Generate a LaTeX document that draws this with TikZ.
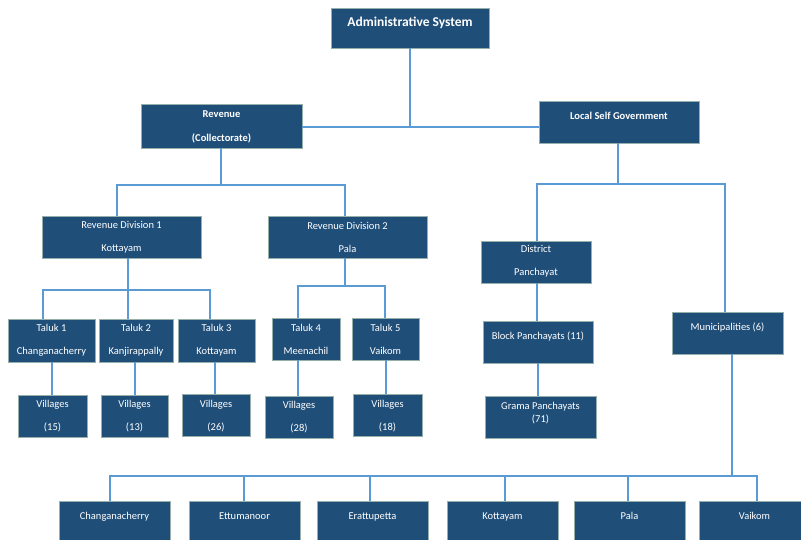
\documentclass[tikz,border=0pt]{standalone}
\usepackage{fontspec}
\setmainfont{Carlito}
\definecolor{boxfill}{RGB}{31,78,121}
\definecolor{boxline}{RGB}{150,175,170}
\definecolor{conncol}{RGB}{91,155,213}
\begin{document}
\begin{tikzpicture}[x=1pt,y=-1pt,
  box/.style={draw=boxline,line width=0.8pt,fill=boxfill,rectangle,inner sep=0pt,minimum height=42pt},
  lbl/.style={text=white,inner sep=0pt,align=center,font=\fontsize{10.5}{23}\selectfont},
  slbl/.style={lbl,text height=7.5pt,text depth=2.5pt},
  blbl/.style={lbl,font=\fontsize{10.5}{24}\selectfont\bfseries},
  conn/.style={draw=conncol,line width=1.3pt}]
\useasboundingbox (0,0) rectangle (801,539);
\clip (0,0) rectangle (801,539);
% boxes
\node[box,minimum width=158pt,minimum height=40pt] (adm) at (410,28) {};
\node[box,minimum width=161pt,minimum height=44pt] (rev) at (221.5,126) {};
\node[box,minimum width=160pt] (lsg) at (619,122) {};
\node[box,minimum width=159pt] (rd1) at (121.5,237) {};
\node[box,minimum width=159pt] (rd2) at (347.5,237) {};
\node[box,minimum width=110pt] (dp) at (536,262) {};
\node[box,minimum width=110pt] (bp) at (538,342) {};
\node[box,minimum width=111pt] (gp) at (540.5,417) {};
\node[box,minimum width=111pt] (mun) at (727.5,333) {};
\node[box,minimum width=87pt,minimum height=43pt] (t1) at (51.5,340.5) {};
\node[box,minimum width=74pt,minimum height=43pt] (t2) at (136,340.5) {};
\node[box,minimum width=77pt,minimum height=43pt] (t3) at (216.5,340.5) {};
\node[box,minimum width=68pt] (t4) at (306,339) {};
\node[box,minimum width=67pt] (t5) at (385.5,339) {};
\node[box,minimum width=69pt] (v1) at (52.5,416) {};
\node[box,minimum width=67pt] (v2) at (134.5,416) {};
\node[box,minimum width=68pt] (v3) at (216,415.5) {};
\node[box,minimum width=68pt] (v4) at (299,417) {};
\node[box,minimum width=69pt] (v5) at (387.5,415) {};
\node[box,minimum width=111pt] (b1) at (114.5,522) {};
\node[box,minimum width=111pt] (b2) at (244.5,522) {};
\node[box,minimum width=111pt] (b3) at (372.5,522) {};
\node[box,minimum width=111pt] (b4) at (502.5,522) {};
\node[box,minimum width=111pt] (b5) at (629.5,522) {};
\node[box,minimum width=111pt] (b6) at (754.5,522) {};
% labels
\node[lbl,font=\fontsize{13.5}{16}\selectfont\bfseries,text height=9.5pt,text depth=3pt] (adm-t) at (410,23) {Administrative System};
\node[blbl] (rev-t) at (221.5,127) {Revenue\\(Collectorate)};
\node[blbl,text height=7.5pt,text depth=2.5pt] (lsg-t) at (619,117) {Local Self Government};
\node[lbl] (rd1-t) at (121.5,237) {Revenue Division 1\\Kottayam};
\node[lbl] (rd2-t) at (347.5,237) {Revenue Division 2\\Pala};
\node[lbl] (dp-t) at (536,261.5) {District\\Panchayat};
\node[slbl] (bp-t) at (538,337) {Block Panchayats (11)};
\node[lbl,font=\fontsize{10.5}{13}\selectfont] (gp-t) at (540.5,413.5) {Grama Panchayats\\(71)};
\node[slbl] (mun-t) at (727.5,328) {Municipalities (6)};
\node[lbl] (t1-t) at (51.5,340.5) {Taluk 1\\Changanacherry};
\node[lbl] (t2-t) at (136,340.5) {Taluk 2\\Kanjirappally};
\node[lbl] (t3-t) at (216.5,340.5) {Taluk 3\\Kottayam};
\node[lbl] (t4-t) at (306,339.5) {Taluk 4\\Meenachil};
\node[lbl] (t5-t) at (385.5,339.5) {Taluk 5\\Vaikom};
\node[lbl] (v1-t) at (52.5,416.5) {Villages\\(15)};
\node[lbl] (v2-t) at (134.5,416.5) {Villages\\(13)};
\node[lbl] (v3-t) at (216,416) {Villages\\(26)};
\node[lbl] (v4-t) at (299,417.5) {Villages\\(28)};
\node[lbl] (v5-t) at (387.5,416) {Villages\\(18)};
\node[slbl] (b1-t) at (114.5,517) {Changanacherry};
\node[slbl] (b2-t) at (244.5,517) {Ettumanoor};
\node[slbl] (b3-t) at (372.5,517) {Erattupetta};
\node[slbl] (b4-t) at (502.5,517) {Kottayam};
\node[slbl] (b5-t) at (629.5,517) {Pala};
\node[slbl] (b6-t) at (754.5,517) {Vaikom};
% junctions
\coordinate (jadm) at (410,127);
\coordinate (jrev) at (221,185);
\coordinate (jrd1) at (128,290);
\coordinate (jrd2) at (345,286);
\coordinate (jlsg) at (618,184);
\coordinate (jmun) at (732,476);
% connectors
\draw[conn] (adm.south) -- (jadm);
\draw[conn] (rev.east |- jadm) -- (lsg.west |- jadm);
\draw[conn] (jrev |- rev.south) -- (jrev);
\draw[conn] ([xshift=-4.5pt]rd1.north) |- (jrev) -| ([xshift=-2.5pt]rd2.north);
\draw[conn] (jrd1 |- rd1.south) -- (jrd1);
\draw[conn] ([xshift=-8.5pt]t1.north) |- (jrd1) -| ([xshift=-6.5pt]t3.north);
\draw[conn] (jrd1) -- (jrd1 |- t2.north);
\draw[conn] (jrd2 |- rd2.south) -- (jrd2);
\draw[conn] ([xshift=-8pt]t4.north) |- (jrd2) -| ([xshift=-0.5pt]t5.north);
\draw[conn] ([xshift=-0.5pt]v1.north |- t1.south) -- ([xshift=-0.5pt]v1.north);
\draw[conn] ([xshift=0.5pt]v2.north |- t2.south) -- ([xshift=0.5pt]v2.north);
\draw[conn] ([xshift=-1pt]v3.north |- t3.south) -- ([xshift=-1pt]v3.north);
\draw[conn] ([xshift=-1pt]v4.north |- t4.south) -- ([xshift=-1pt]v4.north);
\draw[conn] ([xshift=-1.5pt]v5.north |- t5.south) -- ([xshift=-1.5pt]v5.north);
\draw[conn] (jlsg |- lsg.south) -- (jlsg);
\draw[conn] ([xshift=1pt]dp.north) |- (jlsg) -| ([xshift=-2.5pt]mun.north);
\draw[conn] ([xshift=1pt]dp.south) -- ([xshift=1pt]dp.south |- bp.north);
\draw[conn] (bp.south) -- (bp.south |- gp.north);
\draw[conn] (jmun |- mun.south) -- (jmun);
\draw[conn] ([xshift=-4.5pt]b1.north) |- (jmun) -| ([xshift=2.5pt]b6.north);
\draw[conn] ([xshift=-0.5pt]b2.north |- jmun) -- ([xshift=-0.5pt]b2.north);
\draw[conn] ([xshift=-2.5pt]b3.north |- jmun) -- ([xshift=-2.5pt]b3.north);
\draw[conn] ([xshift=2.5pt]b4.north |- jmun) -- ([xshift=2.5pt]b4.north);
\draw[conn] ([xshift=-1.5pt]b5.north |- jmun) -- ([xshift=-1.5pt]b5.north);
\end{tikzpicture}
\end{document}
